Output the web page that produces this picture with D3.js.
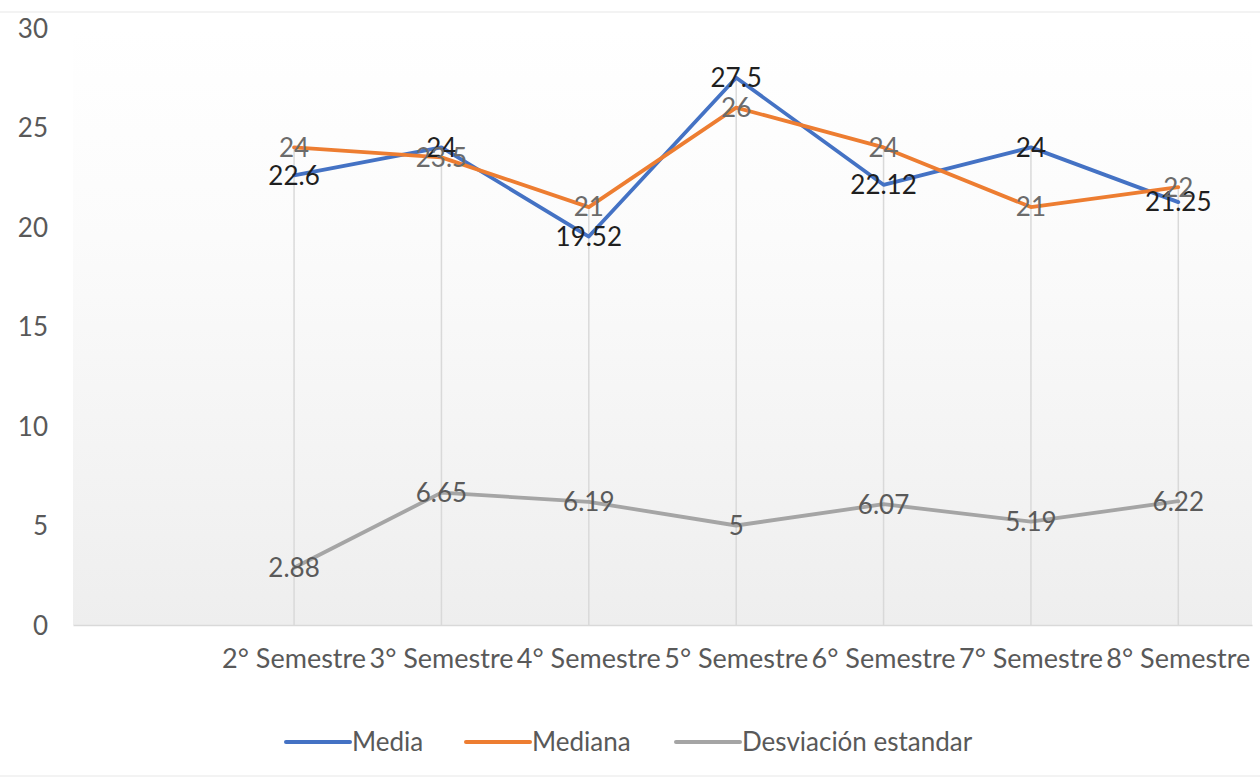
<!DOCTYPE html>
<html>
<head>
<meta charset="utf-8">
<script src="https://cdn.jsdelivr.net/npm/d3@7/dist/d3.min.js"></script>
<style>
  html, body { margin: 0; padding: 0; background: #fff; }
  svg { display: block; }
  text { font-family: Lato, "Open Sans", sans-serif; }
</style>
</head>
<body>
<svg id="chart" width="1260" height="782"></svg>
<script>
// ---- data ----
const categories = ["", "2° Semestre", "3° Semestre", "4° Semestre", "5° Semestre", "6° Semestre", "7° Semestre", "8° Semestre"];
const media   = [null, 22.6, 24, 19.52, 27.5, 22.12, 24, 21.25];
const mediana = [null, 24, 23.5, 21, 26, 24, 21, 22];
const desviacion = [null, 2.88, 6.65, 6.19, 5, 6.07, 5.19, 6.22];
const seriesNames = ["Media", "Mediana", "Desviación estandar"];
const yTicks = [0, 5, 10, 15, 20, 25, 30];

const colors = ["#4472C4", "#ED7D31", "#A5A5A5"];
const labelColors = ["#1f1f1f", "#6b6b6b", "#5a5a5a"];
const seriesValues = [media, mediana, desviacion];

// ---- layout ----
const svg = d3.select("#chart");
const plot = { left: 73, right: 1252, top: 28, bottom: 625 };

const x = d3.scaleBand().domain(categories).range([plot.left, plot.right]).padding(0);
const y = d3.scaleLinear().domain([0, 30]).range([plot.bottom, plot.top]);
const cx = c => x(c) + x.bandwidth() / 2;

// chart border hints
svg.append("line").attr("x1", 0).attr("x2", 1260).attr("y1", 12).attr("y2", 12)
  .attr("stroke", "#f3f3f3").attr("stroke-width", 2);
svg.append("line").attr("x1", 0).attr("x2", 1260).attr("y1", 776).attr("y2", 776)
  .attr("stroke", "#f3f3f3").attr("stroke-width", 2);

// plot background gradient
const defs = svg.append("defs");
const grad = defs.append("linearGradient").attr("id", "bg").attr("x1", 0).attr("x2", 0).attr("y1", 0).attr("y2", 1);
grad.append("stop").attr("offset", "0%").attr("stop-color", "#ffffff");
grad.append("stop").attr("offset", "35%").attr("stop-color", "#fbfbfb");
grad.append("stop").attr("offset", "100%").attr("stop-color", "#eeeeee");
svg.append("rect")
  .attr("x", plot.left).attr("y", plot.top)
  .attr("width", plot.right - plot.left).attr("height", plot.bottom - plot.top)
  .attr("fill", "url(#bg)");

// y axis labels
const yAxis = d3.axisLeft(y).tickValues(yTicks).tickSize(0).tickPadding(0);
const gy = svg.append("g").attr("transform", `translate(48,0)`).call(yAxis);
gy.select(".domain").remove();
gy.selectAll("text").attr("font-size", 26).attr("fill", "#595959")
  .attr("font-family", "Lato, sans-serif").attr("dy", "0.35em");

// x axis
const xAxis = d3.axisBottom(x).tickSize(0).tickPadding(0);
const gx = svg.append("g").attr("transform", `translate(0,${plot.bottom})`).call(xAxis);
gx.select(".domain").attr("stroke", "#d9d9d9").attr("stroke-width", 1.5);
gx.selectAll("text").attr("font-size", 27).attr("fill", "#595959")
  .attr("font-family", "Lato, sans-serif").attr("y", 43).attr("dy", 0);

// drop lines
svg.append("g").selectAll("line").data(categories.map((c, i) => ({ c, i })).filter(d => media[d.i] !== null))
  .join("line")
  .attr("x1", d => cx(d.c)).attr("x2", d => cx(d.c))
  .attr("y1", d => y(Math.max(media[d.i], mediana[d.i], desviacion[d.i])))
  .attr("y2", plot.bottom)
  .attr("stroke", "#d9d9d9").attr("stroke-width", 1.5);

// lines
const line = d3.line()
  .defined(d => d.v !== null)
  .x(d => cx(d.c)).y(d => y(d.v));

seriesValues.forEach((vals, s) => {
  const pts = categories.map((c, i) => ({ c, v: vals[i] }));
  svg.append("path").datum(pts)
    .attr("d", line)
    .attr("fill", "none")
    .attr("stroke", colors[s])
    .attr("stroke-width", 3.8)
    .attr("stroke-linejoin", "round")
    .attr("stroke-linecap", "round");
});

// data labels (centered on points)
seriesValues.forEach((vals, s) => {
  const pts = categories.map((c, i) => ({ c, v: vals[i] })).filter(d => d.v !== null);
  svg.append("g").selectAll("text").data(pts).join("text")
    .attr("x", d => cx(d.c)).attr("y", d => y(d.v))
    .attr("dy", "0.36em")
    .attr("text-anchor", "middle")
    .attr("font-size", 26)
    .attr("fill", labelColors[s])
    .text(d => d.v);
});

// legend
const legendItems = [
  { name: seriesNames[0], x1: 286, color: colors[0] },
  { name: seriesNames[1], x1: 466, color: colors[1] },
  { name: seriesNames[2], x1: 676, color: colors[2] }
];
const lg = svg.append("g");
legendItems.forEach(it => {
  lg.append("line").attr("x1", it.x1).attr("x2", it.x1 + 64)
    .attr("y1", 742).attr("y2", 742)
    .attr("stroke", it.color).attr("stroke-width", 4).attr("stroke-linecap", "round");
  lg.append("text").attr("x", it.x1 + 66).attr("y", 742).attr("dy", "0.36em")
    .attr("font-size", 26).attr("fill", "#595959").text(it.name);
});
</script>
</body>
</html>
